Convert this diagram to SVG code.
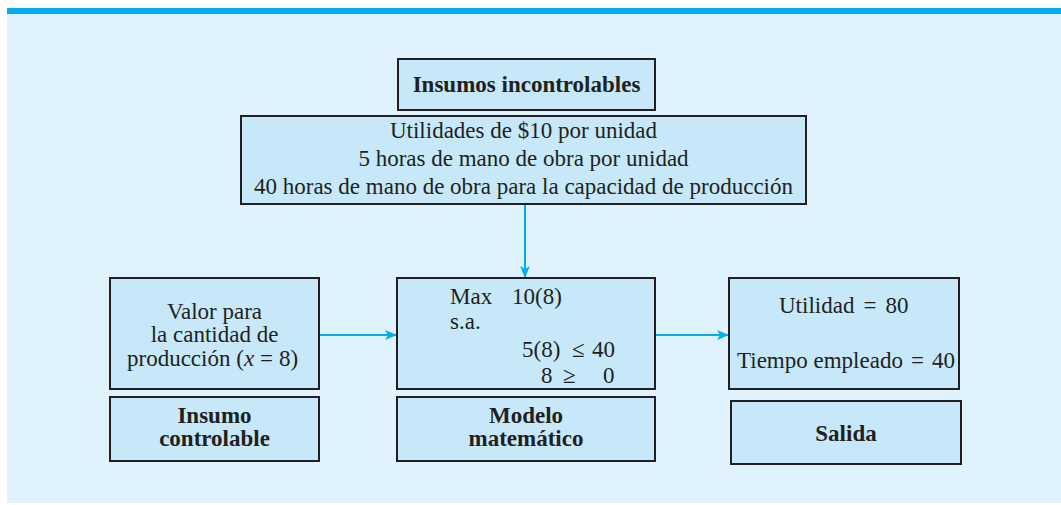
<svg xmlns="http://www.w3.org/2000/svg" width="1061" height="505" viewBox="0 0 1061 505">
<defs>
<style>
.box{fill:#c6e8f8;stroke:#231f20;stroke-width:2}
.t{font-family:"Liberation Serif",serif;font-size:23px;fill:#231f20}
.b{font-family:"Liberation Serif",serif;font-size:23px;font-weight:bold;fill:#231f20}
.c{text-anchor:middle}
.conn{stroke:#00aeef;stroke-width:2;fill:none;marker-end:url(#ah)}
</style>
<marker id="ah" markerWidth="12" markerHeight="10" refX="11" refY="5" orient="auto" markerUnits="userSpaceOnUse">
<path d="M0,0 L12,5 L0,10 L3,5 Z" fill="#00aeef"/>
</marker>
</defs>
<rect x="0" y="0" width="1061" height="505" fill="#ffffff"/>
<rect x="7" y="14" width="1054" height="489" fill="#e0f2fc"/>
<rect x="7" y="8" width="1054" height="6" fill="#00aeef"/>
<g id="connectors">
<line class="conn" x1="525" y1="205" x2="525" y2="277"/>
<line class="conn" x1="320" y1="335" x2="396" y2="335"/>
<line class="conn" x1="656" y1="335" x2="728" y2="335"/>
</g>
<g id="insumos-incontrolables">
<rect class="box" x="398" y="59" width="257" height="51"/>
<text class="b c" x="526.5" y="92">Insumos incontrolables</text>
</g>
<g id="datos">
<rect class="box" x="241" y="116" width="565" height="88"/>
<text class="t c" x="523.5" y="138">Utilidades de $10 por unidad</text>
<text class="t c" x="523.5" y="166">5 horas de mano de obra por unidad</text>
<text class="t c" x="523.5" y="194">40 horas de mano de obra para la capacidad de producción</text>
</g>
<g id="valor">
<rect class="box" x="110" y="278" width="209" height="111"/>
<text class="t c" x="214.5" y="319">Valor para</text>
<text class="t c" x="214.5" y="342">la cantidad de</text>
<text class="t" x="127" y="366">producción (<tspan font-style="italic">x</tspan><tspan dx="6">=</tspan><tspan dx="6">8)</tspan></text>
</g>
<g id="insumo-controlable">
<rect class="box" x="110" y="397" width="209" height="64"/>
<text class="b c" x="214.5" y="423">Insumo</text>
<text class="b c" x="214.5" y="446">controlable</text>
</g>
<g id="modelo">
<rect class="box" x="397" y="278" width="258" height="111"/>
<text class="t" x="450" y="304">Max</text>
<text class="t" x="512" y="304">10(8)</text>
<text class="t" x="450" y="329">s.a.</text>
<text class="t" x="522" y="357">5(8)<tspan x="572">≤</tspan><tspan x="592">40</tspan></text>
<text class="t" x="541" y="383">8<tspan x="563">≥</tspan><tspan x="603">0</tspan></text>
</g>
<g id="modelo-matematico">
<rect class="box" x="397" y="397" width="258" height="64"/>
<text class="b c" x="526" y="423">Modelo</text>
<text class="b c" x="526" y="446">matemático</text>
</g>
<g id="resultado">
<rect class="box" x="729" y="278" width="230" height="111"/>
<text class="t" x="779" y="313">Utilidad<tspan dx="9">=</tspan><tspan dx="9">80</tspan></text>
<text class="t" x="737" y="368">Tiempo empleado<tspan dx="8">=</tspan><tspan dx="8">40</tspan></text>
</g>
<g id="salida">
<rect class="box" x="731" y="401" width="230" height="63"/>
<text class="b c" x="846" y="441">Salida</text>
</g>
</svg>
